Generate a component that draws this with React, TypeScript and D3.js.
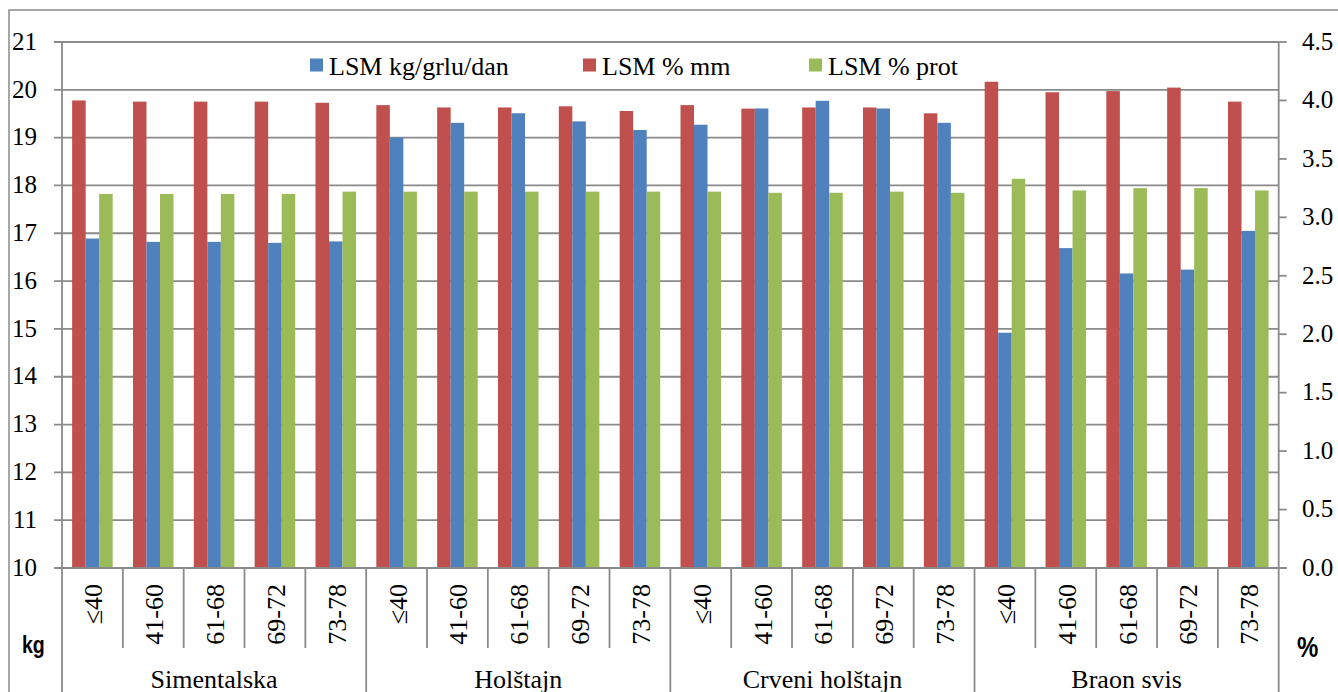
import React from "react";
import * as d3 from "d3";

// Weight classes inside each breed group, and the breeds themselves
const weightClasses = ["≤40", "41-60", "61-68", "69-72", "73-78"];
const breeds = ["Simentalska", "Holštajn", "Crveni holštajn", "Braon svis"];

// LSM milk yield, kg per cow per day (left axis)
const kgPerDay = [
  16.89, 16.82, 16.82, 16.8, 16.83,
  19.0, 19.31, 19.51, 19.34, 19.16,
  19.27, 19.61, 19.77, 19.61, 19.31,
  14.92, 16.69, 16.16, 16.24, 17.05,
];
// LSM milk fat, % (right axis)
const fatPct = [
  4.0, 3.99, 3.99, 3.99, 3.98,
  3.96, 3.94, 3.94, 3.95, 3.91,
  3.96, 3.93, 3.94, 3.94, 3.89,
  4.16, 4.07, 4.08, 4.11, 3.99,
];
// LSM milk protein, % (right axis)
const protPct = [
  3.2, 3.2, 3.2, 3.2, 3.22,
  3.22, 3.22, 3.22, 3.22, 3.22,
  3.22, 3.21, 3.21, 3.22, 3.21,
  3.33, 3.23, 3.25, 3.25, 3.23,
];

const leftTicks = [10, 11, 12, 13, 14, 15, 16, 17, 18, 19, 20, 21];
const rightTicks = [0, 0.5, 1, 1.5, 2, 2.5, 3, 3.5, 4, 4.5];

const seriesNames = ["LSM kg/grlu/dan", "LSM % mm", "LSM % prot"];
const seriesKeys = ["mm", "kg", "prot"]; // drawing order inside a cluster

const COLORS: Record<string, string> = {
  kg: "#4F81BD",
  mm: "#C0504D",
  prot: "#9BBB59",
};

const W = 1338;
const H = 692;
const plot = { left: 62, right: 1278.7, top: 42, bottom: 568 };
const GRID = "#8a8a8a";
const SERIF = "'Liberation Serif', 'Times New Roman', serif";

type Row = { key: string; breed: string; cls: string; kg: number; mm: number; prot: number };

const rows: Row[] = [];
breeds.forEach((b, bi) =>
  weightClasses.forEach((c, ci) => {
    const i = bi * weightClasses.length + ci;
    rows.push({ key: `${b}-${c}`, breed: b, cls: c, kg: kgPerDay[i], mm: fatPct[i], prot: protPct[i] });
  })
);

export default function App() {
  const x = d3
    .scaleBand<string>()
    .domain(rows.map((r) => r.key))
    .range([plot.left, plot.right])
    .paddingInner(1 / 3)
    .paddingOuter(1 / 6);
  const step = x.step();
  const xs = d3.scaleBand<string>().domain(seriesKeys).range([0, x.bandwidth()]);

  const yL = d3.scaleLinear().domain([10, 21]).range([plot.bottom, plot.top]);
  const yR = d3.scaleLinear().domain([0, 4.5]).range([plot.bottom, plot.top]);
  const yFor = (k: string) => (k === "kg" ? yL : yR);

  const catEdge = (i: number) => plot.left + i * step;

  const legend = [
    { key: "kg", label: seriesNames[0], x: 310 },
    { key: "mm", label: seriesNames[1], x: 583 },
    { key: "prot", label: seriesNames[2], x: 809 },
  ];

  return (
    <svg
      width={W}
      height={H}
      viewBox={`0 0 ${W} ${H}`}
      style={{ position: "absolute", left: 0, top: 0, background: "#fff" }}
    >
      <rect x={0} y={0} width={W} height={H} fill="#fff" />
      {/* chart frame */}
      <rect x={9} y={10} width={W + 20} height={H + 20} fill="none" stroke={GRID} strokeWidth={1.5} />

      {/* horizontal gridlines and left ticks */}
      {leftTicks.map((t) => (
        <g key={`gl-${t}`}>
          <line x1={54} x2={plot.right} y1={yL(t)} y2={yL(t)} stroke={GRID} strokeWidth={1.8} />
          <text
            x={37}
            y={yL(t) + 2}
            textAnchor="end"
            dominantBaseline="middle"
            fontFamily={SERIF}
            fontSize={25}
            fill="#000"
          >
            {t}
          </text>
        </g>
      ))}

      {/* right ticks */}
      {rightTicks.map((t) => (
        <g key={`gr-${t}`}>
          <line x1={plot.right} x2={plot.right + 8} y1={yR(t)} y2={yR(t)} stroke={GRID} strokeWidth={1.8} />
          <text
            x={1302}
            y={yR(t) + 2}
            textAnchor="start"
            dominantBaseline="middle"
            fontFamily={SERIF}
            fontSize={25}
            fill="#000"
          >
            {t.toFixed(1)}
          </text>
        </g>
      ))}

      {/* bars */}
      {rows.map((r) => (
        <g key={r.key} transform={`translate(${x(r.key)},0)`}>
          {seriesKeys.map((k) => {
            const y = yFor(k);
            const v = (r as any)[k] as number;
            return (
              <rect
                key={k}
                x={xs(k)}
                y={y(v)}
                width={xs.bandwidth()}
                height={plot.bottom - y(v)}
                fill={COLORS[k]}
              />
            );
          })}
        </g>
      ))}

      {/* axes */}
      <line x1={plot.left} x2={plot.left} y1={plot.top} y2={H + 5} stroke={GRID} strokeWidth={1.8} />
      <line x1={plot.right} x2={plot.right} y1={plot.top} y2={H + 5} stroke={GRID} strokeWidth={1.8} />
      <line x1={54} x2={plot.right + 8} y1={plot.bottom} y2={plot.bottom} stroke={GRID} strokeWidth={1.8} />

      {/* category separators */}
      {d3.range(1, rows.length).map((i) => {
        const groupEdge = i % weightClasses.length === 0;
        return (
          <line
            key={`sep-${i}`}
            x1={catEdge(i)}
            x2={catEdge(i)}
            y1={plot.bottom}
            y2={groupEdge ? H + 5 : 648}
            stroke={GRID}
            strokeWidth={1.8}
          />
        );
      })}

      {/* weight-class labels */}
      {rows.map((r) => {
        const cx = (x(r.key) as number) + x.bandwidth() / 2;
        return (
          <text
            key={`lbl-${r.key}`}
            transform={`translate(${cx + 10},584) rotate(-90)`}
            textAnchor="end"
            fontFamily={SERIF}
            fontSize={26}
            fill="#000"
          >
            {r.cls}
          </text>
        );
      })}

      {/* breed labels */}
      {breeds.map((b, bi) => {
        const cx = catEdge(bi * weightClasses.length) + (step * weightClasses.length) / 2;
        return (
          <text key={b} x={cx} y={688} textAnchor="middle" fontFamily={SERIF} fontSize={26} fill="#000">
            {b}
          </text>
        );
      })}

      {/* unit labels */}
      <text
        transform="translate(22,653) scale(0.85,1)"
        fontFamily="'Liberation Sans', Arial, sans-serif"
        fontWeight="bold"
        fontSize={23}
        fill="#000"
      >
        kg
      </text>
      <text
        transform="translate(1297,657) scale(0.8,1)"
        fontFamily="'Liberation Sans', Arial, sans-serif"
        fontWeight="bold"
        fontSize={30}
        fill="#000"
      >
        %
      </text>

      {/* legend */}
      {legend.map((l) => (
        <g key={l.key}>
          <rect x={l.x} y={58.5} width={13} height={13} fill={COLORS[l.key]} />
          <text x={l.x + 19} y={75} fontFamily={SERIF} fontSize={26} fill="#000">
            {l.label}
          </text>
        </g>
      ))}
    </svg>
  );
}
